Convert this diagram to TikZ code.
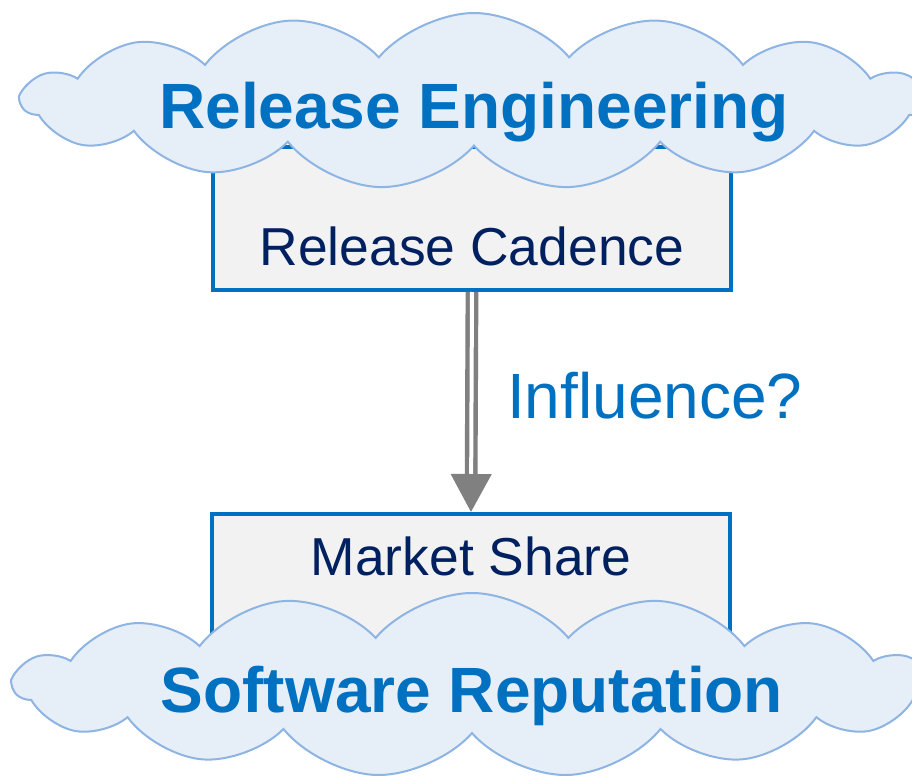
\documentclass[tikz,border=0pt]{standalone}
\usepackage{fontspec}
\setmainfont{Liberation Sans}
\usetikzlibrary{shapes.symbols,arrows.meta}

\definecolor{boxblue}{RGB}{0,112,192}
\definecolor{navy}{RGB}{0,32,96}
\definecolor{boxgray}{RGB}{242,242,242}
\definecolor{cloudfill}{RGB}{230,238,248}
\definecolor{cloudline}{RGB}{141,180,226}
\definecolor{arrowgray}{RGB}{128,128,128}

\begin{document}
\begin{tikzpicture}[
            x = 0.5pt, y = -0.5pt,
            every node/.style={transform shape},
            factor/.style={draw=boxblue, fill=boxgray, line width=2pt, inner sep=0pt,
                minimum width=259pt, text=navy, font=\fontsize{26.7}{32}\selectfont},
            area/.style={cloud, cloud puffs=15, cloud puff arc=100, cloud ignores aspect,
                draw=cloudline, fill=cloudfill, line width=1pt, inner sep=0pt,
                minimum width=452pt, minimum height=88pt, text=boxblue,
                text height=27pt, text depth=0pt, font=\bfseries\fontsize{32}{38}\selectfont},
            link/.style={draw=arrowgray, line width=2.2pt, double=white, double distance=2pt,
                -{Triangle[width=20pt, length=19pt, fill=arrowgray]}},
            ]
        \useasboundingbox (0, 0) rectangle (912, 776);
        \clip (0, 0) rectangle (912, 776);

        \node[factor, anchor=north, text height=59pt, text depth=12.5pt] (cadence) at (472, 145) {Release Cadence};
        \node[factor, anchor=north, text height=30.5pt, text depth=44pt] (share) at (471, 512) {Market Share};

        \node[area] (engineering) at (474, 101) {Release Engineering};
        \node[area, minimum width=458pt, minimum height=92pt] (reputation) at (472, 685) {Software Reputation};

        \draw[link] (cadence.south) -- (share.north);
        \node[anchor=base west, text=boxblue, font=\fontsize{32}{38}\selectfont] (influence) at (500, 418) {Influence?};
    \end{tikzpicture}
\end{document}
